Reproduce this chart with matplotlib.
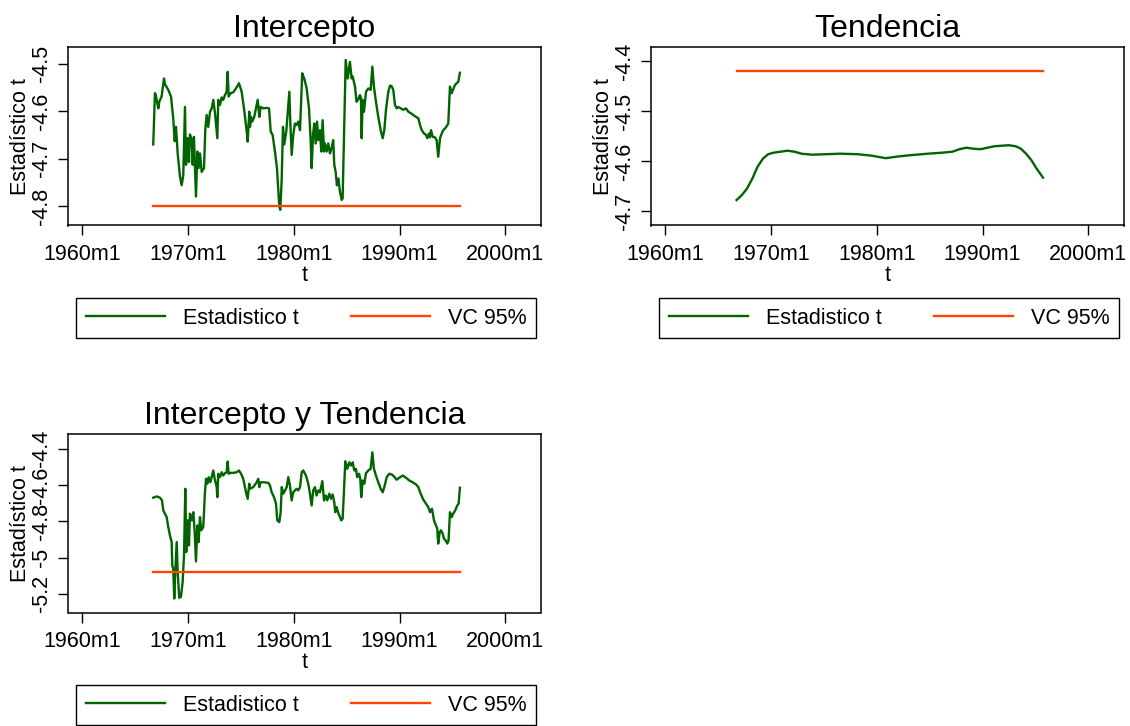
import numpy as np
import matplotlib
matplotlib.use("Agg")
import matplotlib.pyplot as plt
from matplotlib.lines import Line2D

plt.rcParams['font.family'] = ['Liberation Sans', 'DejaVu Sans']

GREEN = '#006400'
ORANGE = '#ff4500'

# rolling Zivot-Andrews statistics, decimal years
t_int = [1966.71, 1966.87, 1966.95, 1967.19, 1967.28, 1967.50, 1967.73, 1967.82, 1968.13,
         1968.39, 1968.60, 1968.74, 1968.86, 1969.02, 1969.24, 1969.40, 1969.55, 1969.71,
         1969.81, 1969.97, 1970.09, 1970.18, 1970.35, 1970.44, 1970.56, 1970.75, 1970.88,
         1971.00, 1971.13, 1971.29, 1971.51, 1971.63, 1971.76, 1971.91, 1972.08, 1972.24,
         1972.39, 1972.55, 1972.77, 1972.86, 1973.02, 1973.18, 1973.33, 1973.49, 1973.65,
         1973.75, 1973.84, 1974.03, 1974.28, 1974.53, 1974.82, 1975.07, 1975.29, 1975.55,
         1975.64, 1975.79, 1975.86, 1975.95, 1976.07, 1976.26, 1976.43, 1976.59, 1976.74,
         1976.87, 1977.12, 1977.44, 1977.66, 1977.82, 1978.00, 1978.22, 1978.41, 1978.53,
         1978.63, 1978.72, 1978.85, 1978.98, 1979.10, 1979.29, 1979.42, 1979.58, 1979.67,
         1979.80, 1979.95, 1980.11, 1980.27, 1980.43, 1980.59, 1980.68, 1980.80, 1980.99,
         1981.22, 1981.44, 1981.60, 1981.69, 1981.82, 1981.94, 1982.07, 1982.20, 1982.32,
         1982.48, 1982.60, 1982.73, 1982.86, 1982.95, 1983.11, 1983.26, 1983.42, 1983.57,
         1983.73, 1983.83, 1983.96, 1984.08, 1984.21, 1984.37, 1984.53, 1984.62, 1984.78,
         1984.91, 1985.10, 1985.31, 1985.47, 1985.57, 1985.79, 1985.94, 1986.10, 1986.26,
         1986.35, 1986.42, 1986.51, 1986.64, 1986.83, 1987.05, 1987.27, 1987.43, 1987.58,
         1987.77, 1987.99, 1988.22, 1988.41, 1988.56, 1988.72, 1988.94, 1989.10, 1989.25,
         1989.41, 1989.57, 1989.73, 1989.88, 1990.11, 1990.35, 1990.61, 1990.83, 1991.05,
         1991.30, 1991.56, 1991.78, 1991.94, 1992.10, 1992.32, 1992.51, 1992.63, 1992.79,
         1992.88, 1992.98, 1993.14, 1993.35, 1993.51, 1993.66, 1993.83, 1993.99, 1994.14,
         1994.39, 1994.61, 1994.77, 1994.93, 1995.08, 1995.24, 1995.40, 1995.56, 1995.71]
stat_int = [-4.670, -4.562, -4.566, -4.594, -4.580, -4.569, -4.531, -4.543, -4.555,
            -4.569, -4.615, -4.663, -4.633, -4.689, -4.738, -4.756, -4.735, -4.591,
            -4.713, -4.657, -4.707, -4.649, -4.661, -4.713, -4.654, -4.780, -4.685,
            -4.720, -4.689, -4.728, -4.720, -4.640, -4.608, -4.633, -4.601, -4.594,
            -4.576, -4.604, -4.657, -4.576, -4.587, -4.571, -4.576, -4.566, -4.559,
            -4.517, -4.569, -4.562, -4.560, -4.552, -4.541, -4.559, -4.594, -4.643,
            -4.664, -4.601, -4.633, -4.612, -4.622, -4.612, -4.594, -4.576, -4.612,
            -4.591, -4.594, -4.593, -4.594, -4.643, -4.650, -4.685, -4.720, -4.763,
            -4.801, -4.808, -4.749, -4.633, -4.670, -4.643, -4.604, -4.559, -4.622,
            -4.692, -4.650, -4.626, -4.629, -4.622, -4.640, -4.587, -4.520, -4.531,
            -4.552, -4.594, -4.664, -4.720, -4.650, -4.626, -4.668, -4.622, -4.661,
            -4.640, -4.685, -4.619, -4.685, -4.668, -4.685, -4.668, -4.689, -4.678,
            -4.661, -4.713, -4.728, -4.756, -4.742, -4.770, -4.787, -4.784, -4.622,
            -4.492, -4.531, -4.496, -4.531, -4.527, -4.548, -4.580, -4.575, -4.566,
            -4.572, -4.657, -4.576, -4.601, -4.559, -4.552, -4.555, -4.506, -4.548,
            -4.580, -4.612, -4.640, -4.657, -4.640, -4.597, -4.559, -4.546, -4.547,
            -4.555, -4.587, -4.594, -4.591, -4.594, -4.597, -4.594, -4.601, -4.604,
            -4.608, -4.612, -4.615, -4.629, -4.640, -4.647, -4.650, -4.657, -4.647,
            -4.655, -4.640, -4.654, -4.655, -4.661, -4.696, -4.657, -4.647, -4.640,
            -4.634, -4.626, -4.548, -4.562, -4.554, -4.545, -4.541, -4.538, -4.519]

t_tend = [1966.74, 1967.24, 1967.73, 1968.23, 1968.73, 1969.23, 1969.73, 1970.23, 1970.89,
          1971.55, 1972.22, 1972.88, 1973.88, 1975.20, 1976.53, 1978.19, 1979.52, 1980.85,
          1981.84, 1983.17, 1984.83, 1986.16, 1987.15, 1987.82, 1988.48, 1989.15, 1989.81,
          1990.47, 1991.14, 1991.80, 1992.46, 1993.13, 1993.63, 1994.12, 1994.62, 1995.12,
          1995.72]
stat_tend = [-4.678, -4.668, -4.655, -4.635, -4.611, -4.595, -4.586, -4.583, -4.581,
             -4.579, -4.581, -4.585, -4.587, -4.586, -4.585, -4.586, -4.589, -4.594,
             -4.591, -4.588, -4.585, -4.583, -4.581, -4.576, -4.573, -4.575, -4.576,
             -4.573, -4.570, -4.569, -4.568, -4.570, -4.575, -4.585, -4.598, -4.615,
             -4.633]

t_both = [1966.71, 1967.03, 1967.35, 1967.54, 1967.66, 1967.82, 1967.98, 1968.13, 1968.29,
          1968.45, 1968.51, 1968.60, 1968.70, 1968.79, 1968.93, 1969.02, 1969.17, 1969.33,
          1969.49, 1969.62, 1969.74, 1969.83, 1969.97, 1970.09, 1970.18, 1970.35, 1970.50,
          1970.63, 1970.75, 1970.88, 1971.00, 1971.13, 1971.25, 1971.44, 1971.60, 1971.70,
          1971.82, 1971.95, 1972.11, 1972.27, 1972.39, 1972.52, 1972.71, 1972.77, 1972.86,
          1973.02, 1973.18, 1973.33, 1973.49, 1973.65, 1973.75, 1973.84, 1974.03, 1974.28,
          1974.60, 1974.82, 1975.01, 1975.22, 1975.48, 1975.64, 1975.79, 1975.86, 1976.17,
          1976.49, 1976.64, 1976.74, 1976.87, 1977.12, 1977.59, 1977.75, 1977.91, 1978.13,
          1978.32, 1978.44, 1978.63, 1978.76, 1978.86, 1979.01, 1979.17, 1979.33, 1979.48,
          1979.64, 1979.80, 1979.95, 1980.11, 1980.27, 1980.43, 1980.59, 1980.75, 1980.90,
          1981.15, 1981.37, 1981.53, 1981.69, 1981.84, 1982.00, 1982.16, 1982.32, 1982.48,
          1982.70, 1982.86, 1983.02, 1983.17, 1983.36, 1983.52, 1983.68, 1983.83, 1983.92,
          1984.06, 1984.18, 1984.30, 1984.49, 1984.62, 1984.75, 1984.87, 1985.06, 1985.25,
          1985.41, 1985.57, 1985.72, 1985.88, 1986.00, 1986.17, 1986.29, 1986.38, 1986.51,
          1986.67, 1986.83, 1987.05, 1987.27, 1987.43, 1987.58, 1987.77, 1987.99, 1988.22,
          1988.41, 1988.56, 1988.79, 1989.04, 1989.26, 1989.48, 1989.73, 1989.98, 1990.30,
          1990.61, 1990.92, 1991.24, 1991.56, 1991.78, 1992.00, 1992.25, 1992.50, 1992.72,
          1992.88, 1993.07, 1993.26, 1993.45, 1993.57, 1993.66, 1993.80, 1993.92, 1994.08,
          1994.20, 1994.36, 1994.52, 1994.64, 1994.77, 1994.93, 1995.08, 1995.27, 1995.46,
          1995.59, 1995.71]
stat_both = [-4.670, -4.663, -4.670, -4.685, -4.740, -4.758, -4.777, -4.832, -4.878,
             -4.915, -5.043, -5.061, -5.226, -5.079, -4.915, -5.079, -5.222, -5.217,
             -5.134, -4.988, -4.621, -4.970, -4.795, -4.933, -4.758, -4.795, -4.750,
             -4.860, -5.021, -4.823, -4.915, -4.777, -4.850, -4.832, -4.640, -4.566,
             -4.593, -4.557, -4.585, -4.548, -4.520, -4.566, -4.612, -4.667, -4.538,
             -4.557, -4.530, -4.548, -4.535, -4.530, -4.471, -4.538, -4.533, -4.533,
             -4.530, -4.520, -4.538, -4.566, -4.640, -4.676, -4.593, -4.621, -4.612,
             -4.585, -4.566, -4.612, -4.585, -4.585, -4.588, -4.603, -4.640, -4.667,
             -4.703, -4.795, -4.805, -4.750, -4.612, -4.648, -4.630, -4.612, -4.557,
             -4.603, -4.685, -4.640, -4.630, -4.621, -4.630, -4.612, -4.530, -4.520,
             -4.548, -4.593, -4.648, -4.713, -4.630, -4.612, -4.658, -4.630, -4.640,
             -4.579, -4.685, -4.658, -4.685, -4.648, -4.676, -4.652, -4.695, -4.750,
             -4.722, -4.750, -4.768, -4.795, -4.786, -4.630, -4.469, -4.511, -4.475,
             -4.493, -4.475, -4.520, -4.511, -4.557, -4.538, -4.566, -4.667, -4.575,
             -4.593, -4.535, -4.520, -4.511, -4.420, -4.511, -4.548, -4.585, -4.621,
             -4.640, -4.612, -4.557, -4.538, -4.542, -4.553, -4.571, -4.560, -4.548,
             -4.560, -4.575, -4.585, -4.597, -4.612, -4.648, -4.681, -4.703, -4.722,
             -4.750, -4.731, -4.795, -4.823, -4.841, -4.923, -4.860, -4.850, -4.868,
             -4.896, -4.905, -4.923, -4.905, -4.750, -4.777, -4.758, -4.740, -4.713,
             -4.703, -4.615]

# 5% critical values
vc_int = -4.80
vc_tend = -4.42
vc_both = -5.08

xtick_pos = [1960, 1970, 1980, 1990, 2000]
xtick_lab = ['1960m1', '1970m1', '1980m1', '1990m1', '2000m1']

W, H = 1130, 726
fig = plt.figure(figsize=(W / 100, H / 100), dpi=100)


def rect(l, t, r, b):
    return [l / W, 1 - b / H, (r - l) / W, (b - t) / H]


def panel(box, legbox, title, t, stat, vc, ylim, yticks, ylabs):
    ax = fig.add_axes(rect(*box))
    ax.plot(t, stat, color=GREEN, lw=1.7)
    ax.plot([t[0], t[-1]], [vc, vc], color=ORANGE, lw=1.7)
    ax.set_xlim(1958.62, 2003.38)
    ax.set_ylim(*ylim)
    ax.set_xticks(xtick_pos)
    ax.set_xticklabels(xtick_lab, fontsize=15.5)
    ax.set_yticks(yticks)
    ax.set_yticklabels(ylabs, fontsize=15.5, rotation=90, va='center')
    ax.tick_params(length=7, width=1.0)
    ax.tick_params(axis='x', pad=6)
    ax.tick_params(axis='y', pad=4)
    for s in ax.spines.values():
        s.set_linewidth(1.1)
    ax.set_title(title, fontsize=23, pad=7.5)
    ax.set_xlabel('t', fontsize=15.5, labelpad=0)
    ax.set_ylabel('Estadístico t', fontsize=15.5, labelpad=0)

    handles = [Line2D([], [], color=GREEN, lw=1.7), Line2D([], [], color=ORANGE, lw=1.7)]
    fig.legend(handles, ['Estadistico t', 'VC 95%'], loc='upper left',
               bbox_to_anchor=rect(*legbox), mode='expand', ncol=2,
               borderaxespad=0, borderpad=0.45, handlelength=3.7, handletextpad=0.8,
               fontsize=15.5, fancybox=False, framealpha=1, edgecolor='black')
    return ax


ax1 = panel((67.7, 47, 541, 225.5), (76, 298, 536, 341), 'Intercepto',
            t_int, stat_int, vc_int, (-4.841, -4.4646),
            [-4.8, -4.7, -4.6, -4.5], ['-4.8', '-4.7', '-4.6', '-4.5'])
ax2 = panel((650.7, 47, 1124, 225.5), (659, 298, 1119, 341), 'Tendencia',
            t_tend, stat_tend, vc_tend, (-4.729, -4.371),
            [-4.7, -4.6, -4.5, -4.4], ['-4.7', '-4.6', '-4.5', '-4.4'])
ax3 = panel((67.7, 434, 541, 612.5), (76, 685, 536, 725), 'Intercepto y Tendencia',
            t_both, stat_both, vc_both, (-5.303, -4.319),
            [-5.2, -5.0, -4.8, -4.6, -4.4], ['-5.2', '-5', '-4.8', '-4.6', '-4.4'])

fig.savefig('out.png', dpi=100, facecolor='white')
